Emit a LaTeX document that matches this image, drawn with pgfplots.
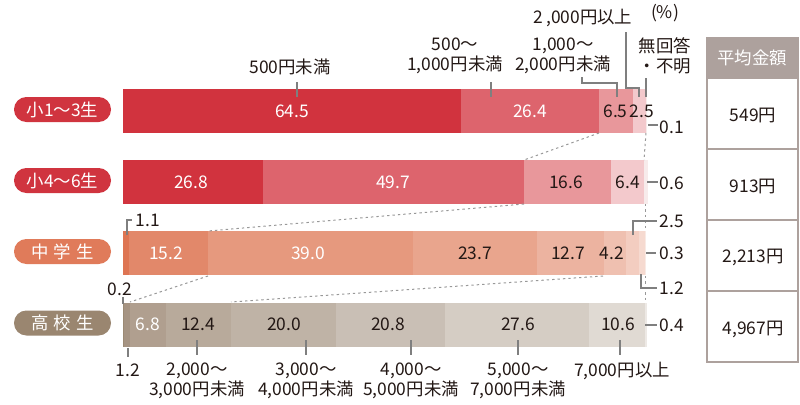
\documentclass[border=0pt]{standalone}
\usepackage{fontspec}
\setmainfont{Noto Sans CJK JP}
\usepackage{pgfplots}
\pgfplotsset{compat=1.18}
\definecolor{r1}{HTML}{D1333E}
\definecolor{r2}{HTML}{DD646D}
\definecolor{r3}{HTML}{E8979B}
\definecolor{r4}{HTML}{F3C9CC}
\definecolor{r5}{HTML}{F7EBEB}
\definecolor{o1}{HTML}{DE7553}
\definecolor{o2}{HTML}{E2886A}
\definecolor{o3}{HTML}{E6997E}
\definecolor{o4}{HTML}{E9A58D}
\definecolor{o5}{HTML}{ECB3A0}
\definecolor{o6}{HTML}{EFC0B0}
\definecolor{o7}{HTML}{F3CDC0}
\definecolor{o8}{HTML}{F6DAD0}
\definecolor{o9}{HTML}{F9EAE4}
\definecolor{t1}{HTML}{9C8A74}
\definecolor{t2}{HTML}{A69483}
\definecolor{t3}{HTML}{B09F8F}
\definecolor{t4}{HTML}{B8AA9B}
\definecolor{t5}{HTML}{BFB3A6}
\definecolor{t6}{HTML}{C9BFB5}
\definecolor{t7}{HTML}{D5CDC4}
\definecolor{t8}{HTML}{E0DAD3}
\definecolor{t9}{HTML}{EDE9E5}
\definecolor{pillr}{HTML}{D0343F}
\definecolor{pillo}{HTML}{E07B5A}
\definecolor{pillt}{HTML}{9A8670}
\definecolor{tb}{HTML}{ADA19D}
\definecolor{ink}{HTML}{231815}
\definecolor{lead}{HTML}{7F7F7F}
\pgfplotsset{rowaxis/.style={
  width=400pt, height=202pt, scale only axis,
  xmin=-23.473, xmax=129.198, ymin=-0.559, ymax=5.115, y dir=reverse,
  hide axis, xbar stacked, bar width=0.618, clip=false,
  at={(0pt,0pt)}, anchor=south west}}
\begin{document}
\begin{tikzpicture}[every node/.style={font=\fontsize{8.7}{10}\selectfont, text=ink, inner sep=0pt}]
% Row 1
\begin{axis}[rowaxis]
\addplot[fill=r1,draw=none] coordinates {(64.5,1)};
\addplot[fill=r2,draw=none] coordinates {(26.4,1)};
\addplot[fill=r3,draw=none] coordinates {(6.5,1)};
\addplot[fill=r4,draw=none] coordinates {(2.5,1)};
\addplot[fill=r5,draw=none] coordinates {(0.1,1)};
\end{axis}
% Row 2
\begin{axis}[rowaxis]
\addplot[fill=r1,draw=none] coordinates {(26.8,2)};
\addplot[fill=r2,draw=none] coordinates {(49.7,2)};
\addplot[fill=r3,draw=none] coordinates {(16.6,2)};
\addplot[fill=r4,draw=none] coordinates {(6.4,2)};
\addplot[fill=r5,draw=none] coordinates {(0.6,2)};
\end{axis}
% Row 3
\begin{axis}[rowaxis]
\addplot[fill=o1,draw=none] coordinates {(1.1,3)};
\addplot[fill=o2,draw=none] coordinates {(15.2,3)};
\addplot[fill=o3,draw=none] coordinates {(39.0,3)};
\addplot[fill=o4,draw=none] coordinates {(23.7,3)};
\addplot[fill=o5,draw=none] coordinates {(12.7,3)};
\addplot[fill=o6,draw=none] coordinates {(4.2,3)};
\addplot[fill=o7,draw=none] coordinates {(2.5,3)};
\addplot[fill=o8,draw=none] coordinates {(1.2,3)};
\addplot[fill=o9,draw=none] coordinates {(0.3,3)};
\end{axis}
% Row 4
\begin{axis}[rowaxis]
\addplot[fill=t1,draw=none] coordinates {(0.2,4)};
\addplot[fill=t2,draw=none] coordinates {(1.2,4)};
\addplot[fill=t3,draw=none] coordinates {(6.8,4)};
\addplot[fill=t4,draw=none] coordinates {(12.4,4)};
\addplot[fill=t5,draw=none] coordinates {(20.0,4)};
\addplot[fill=t6,draw=none] coordinates {(20.8,4)};
\addplot[fill=t7,draw=none] coordinates {(27.6,4)};
\addplot[fill=t8,draw=none] coordinates {(10.6,4)};
\addplot[fill=t9,draw=none] coordinates {(0.4,4)};
\end{axis}
\begin{scope}[x=0.5pt,y=-0.5pt,yshift=202pt]
% pills
\node[fill=pillr, rounded corners=6.2pt, minimum width=48.5pt, minimum height=12.5pt, text=white] at (62.5,109.5) {小1〜3生};
\node[fill=pillr, rounded corners=6.2pt, minimum width=48.5pt, minimum height=12.5pt, text=white] at (62.5,180.5) {小4〜6生};
\node[fill=pillo, rounded corners=6.2pt, minimum width=48.5pt, minimum height=12.5pt, text=white] at (62.5,251.5) {中\hspace{2.5pt}学\hspace{2.5pt}生};
\node[fill=pillt, rounded corners=6.2pt, minimum width=48.5pt, minimum height=12.5pt, text=white] at (62.5,323) {高\hspace{2.5pt}校\hspace{2.5pt}生};
% dotted connectors
\begin{scope}[lead!80, line width=0.5pt, dash pattern=on 1.2pt off 1.5pt]
\draw (599,133) -- (524,160);
\draw (646,133) -- (644,160);
\draw (524,204) -- (208,231);
\draw (645,204) -- (645,231);
\draw (208,276) -- (130,302);
\draw (603,276) -- (231,302);
\draw (645,276) -- (645,302);
\end{scope}
% in-bar values
\node[text=white] at (292,111) {64.5};
\node[text=white] at (530,111) {26.4};
\node at (615.5,111) {6.5};
\node at (642,111) {2.5};
\node[text=white] at (191,182) {26.8};
\node[text=white] at (393,182) {49.7};
\node at (566,182) {16.6};
\node at (628,182) {6.4};
\node[text=white] at (166,253) {15.2};
\node[text=white] at (308,253) {39.0};
\node at (475,253) {23.7};
\node at (568,253) {12.7};
\node at (612,253) {4.2};
\node[text=white] at (148,324.5) {6.8};
\node at (198,324.5) {12.4};
\node at (284,324.5) {20.0};
\node at (388,324.5) {20.8};
\node at (518,324.5) {27.6};
\node at (618,324.5) {10.6};
% leaders
\begin{scope}[lead, line width=0.55pt]
\draw (297,82) -- (297,97);
\draw (491,82) -- (491,97);
\draw (582,77) -- (582,83) -- (617,83) -- (617,97);
\draw (626,32) -- (626,88) -- (639,88) -- (639,97);
\draw (646,78) -- (646,97);
\draw (648,125) -- (658,125);
\draw (647,182) -- (658,182);
\draw (633,235) -- (633,221) -- (657,221);
\draw (646,253) -- (656,253);
\draw (641,274) -- (641,288) -- (657,288);
\draw (645,325) -- (657,325);
\draw (127,235) -- (127,220) -- (132,220);
\draw (123,297) -- (123,304);
\draw (128,348) -- (128,357);
\draw (197,340) -- (197,355);
\draw (306,340) -- (306,355);
\draw (411,340) -- (411,355);
\draw (518,340) -- (518,355);
\draw (620,340) -- (620,355);
\end{scope}
% top labels
\node at (290,67) {500円未満};
\node[align=center] at (455,56) {500〜\\1,000円未満};
\node[align=center] at (563,56) {1,000〜\\2,000円未満};
\node at (583,18) {2\hspace{1.5pt},000円以上};
\node at (665,13) {(\%)};
\node[align=center] at (665,56) {無回答\\・不明};
% right labels
\node at (672,127) {0.1};
\node at (672,183) {0.6};
\node at (672,221) {2.5};
\node at (672,253) {0.3};
\node at (672,288) {1.2};
\node at (672,325) {0.4};
% left labels
\node at (148,220) {1.1};
\node at (120,289) {0.2};
% bottom labels
\node at (128,370) {1.2};
\node[align=center] at (197,381) {2,000〜\\3,000円未満};
\node[align=center] at (306,381) {3,000〜\\4,000円未満};
\node[align=center] at (411,381) {4,000〜\\5,000円未満};
\node[align=center] at (518,381) {5,000〜\\7,000円未満};
\node at (622,371) {7,000円以上};
% table
\fill[tb] (706,38) rectangle (799,79);
\draw[tb, line width=1pt] (707,38) rectangle (798,362);
\draw[tb, line width=1pt] (706,148.5) -- (799,148.5);
\draw[tb, line width=1pt] (706,220) -- (799,220);
\draw[tb, line width=1pt] (706,291) -- (799,291);
\node[text=white] at (752,58) {平均金額};
\node at (753,115) {549円};
\node at (753,186) {913円};
\node at (753,257) {2,213円};
\node at (753,329) {4,967円};
\end{scope}
\pgfresetboundingbox
\path (0pt,0pt) rectangle (400pt,202pt);
\end{tikzpicture}
\end{document}
